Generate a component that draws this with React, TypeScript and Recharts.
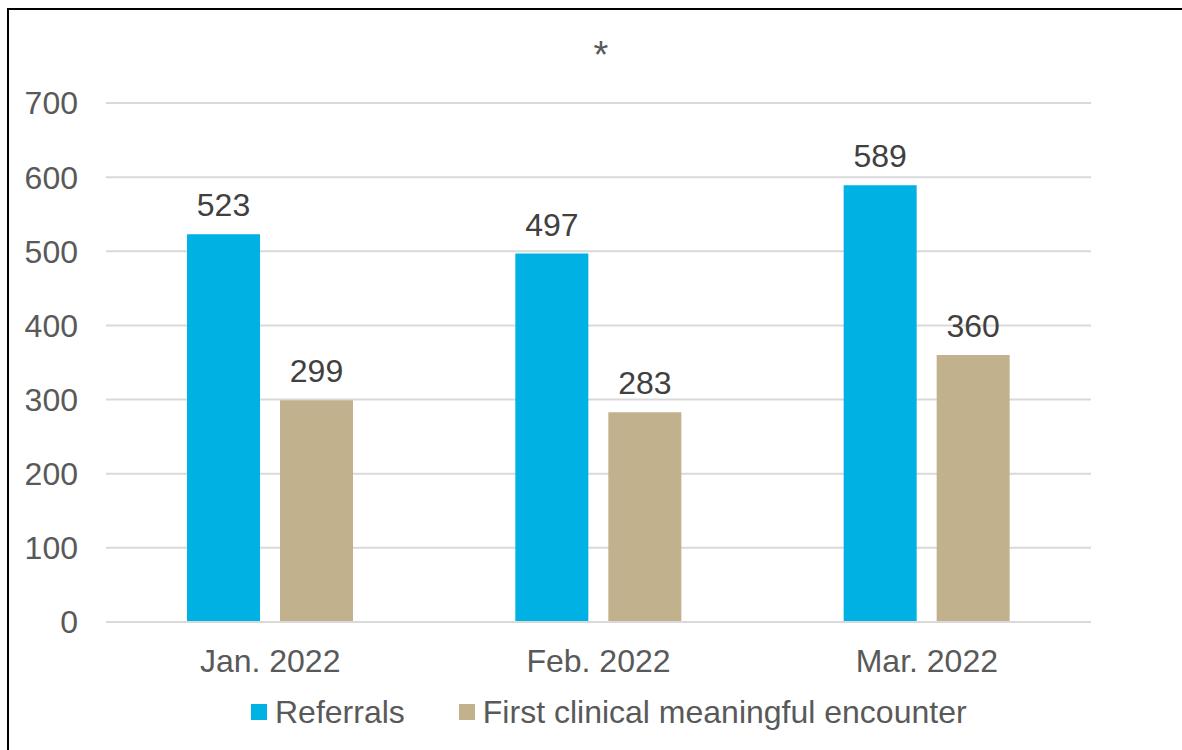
import { BarChart, Bar, XAxis, YAxis, CartesianGrid, Legend, LabelList } from 'recharts';

const months = ['Jan. 2022', 'Feb. 2022', 'Mar. 2022'];
const referrals = [523, 497, 589];
const encounters = [299, 283, 360];
const yTicks = [0, 100, 200, 300, 400, 500, 600, 700];

const seriesNames = ['Referrals', 'First clinical meaningful encounter'];
const colors = ['#00B2E3', '#C1B18D'];

const data = months.map((m, i) => ({
  month: m,
  referrals: referrals[i],
  encounters: encounters[i],
}));

const font = '"Liberation Sans", Arial, sans-serif';

function LegendContent() {
  return (
    <div
      style={{
        display: 'flex',
        alignItems: 'center',
        paddingLeft: 251,
        height: 40,
        fontFamily: font,
        fontSize: 32,
        color: '#595959',
      }}
    >
      {seriesNames.map((name, i) => (
        <div key={name} style={{ display: 'flex', alignItems: 'center', marginRight: 54 }}>
          <span style={{ width: 16, height: 16, background: colors[i], marginRight: 8, display: 'inline-block' }} />
          <span>{name}</span>
        </div>
      ))}
    </div>
  );
}

export default function App() {
  return (
    <div
      style={{
        position: 'fixed',
        left: 0,
        top: 0,
        width: 1182,
        height: 750,
        overflow: 'hidden',
        background: '#fff',
      }}
    >
      {/* frame around the chart, runs off the right and bottom edges */}
      <div
        style={{
          position: 'absolute',
          left: 7,
          top: 8,
          width: 1300,
          height: 900,
          border: '2px solid #000',
        }}
      />
      <div
        style={{
          position: 'absolute',
          left: 0,
          top: 37,
          width: 1202,
          textAlign: 'center',
          fontFamily: font,
          fontSize: 38,
          lineHeight: '36px',
          color: '#595959',
        }}
      >
        *
      </div>
      <div style={{ position: 'absolute', left: 0, top: 0 }}>
        <BarChart
          width={1182}
          height={750}
          data={data}
          margin={{ top: 103, right: 91, left: 0, bottom: 18 }}
          barSize={73}
          barGap={20}
        >
          <CartesianGrid vertical={false} stroke="#d9d9d9" strokeWidth={2} />
          <XAxis
            dataKey="month"
            height={70}
            axisLine={{ stroke: '#d9d9d9', strokeWidth: 2 }}
            tickLine={false}
            tickSize={0}
            tickMargin={27}
            tick={{ fill: '#595959', fontSize: 32, fontFamily: font }}
          />
          <YAxis
            width={106}
            domain={[0, 700]}
            ticks={yTicks}
            axisLine={false}
            tickLine={false}
            tickSize={0}
            tickMargin={28}
            tick={{ fill: '#595959', fontSize: 32, fontFamily: font }}
          />
          <Legend verticalAlign="bottom" height={40} content={<LegendContent />} />
          <Bar dataKey="referrals" name={seriesNames[0]} fill={colors[0]} isAnimationActive={false}>
            <LabelList dataKey="referrals" position="top" offset={18} fill="#404040" fontSize={32} fontFamily={font} />
          </Bar>
          <Bar dataKey="encounters" name={seriesNames[1]} fill={colors[1]} isAnimationActive={false}>
            <LabelList dataKey="encounters" position="top" offset={18} fill="#404040" fontSize={32} fontFamily={font} />
          </Bar>
        </BarChart>
      </div>
    </div>
  );
}
